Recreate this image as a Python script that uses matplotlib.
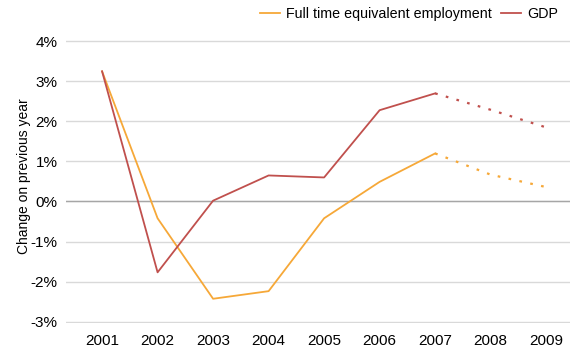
import matplotlib.pyplot as plt

plt.rcParams['font.family'] = ['Liberation Sans', 'DejaVu Sans']

years = [2001, 2002, 2003, 2004, 2005, 2006, 2007, 2008, 2009]
employment = [3.25, -0.42, -2.43, -2.24, -0.42, 0.49, 1.20, 0.67, 0.36]
gdp = [3.25, -1.77, 0.02, 0.65, 0.60, 2.28, 2.70, 2.29, 1.85]
# 2008 and 2009 are forecasts, drawn dotted
n_actual = 7

orange = '#F6A838'
red = '#C0504D'

fig = plt.figure(figsize=(5.7, 3.52), dpi=100)
ax = fig.add_axes([66 / 570, 0.083, 504 / 570, 0.803])

ax.plot(years[:n_actual], employment[:n_actual], color=orange, lw=1.3,
        label='Full time equivalent employment')
ax.plot(years[n_actual - 1:], employment[n_actual - 1:], color=orange, lw=1.6,
        linestyle=(0, (1.2, 3.8)))
ax.plot(years[:n_actual], gdp[:n_actual], color=red, lw=1.3, label='GDP')
ax.plot(years[n_actual - 1:], gdp[n_actual - 1:], color=red, lw=1.6,
        linestyle=(0, (1.2, 3.8)))

ax.set_xlim(2000.35, 2009.43)
ax.set_ylim(-3.03, 4.03)
ax.set_xticks(years)
ax.set_yticks(range(-3, 5))
ax.set_yticklabels([f'{v}%' for v in range(-3, 5)])
ax.tick_params(length=0, labelsize=11, pad=6)
ax.tick_params(axis='x', pad=8)
for s in ax.spines.values():
    s.set_visible(False)
ax.grid(axis='y', color='#d9d9d9', lw=1)
ax.axhline(0, color='#a6a6a6', lw=1, zorder=1)
ax.set_axisbelow(True)
ax.set_ylabel('Change on previous year', fontsize=10)
ax.yaxis.set_label_coords(-0.07, 0.52)

fig.legend(loc='center right', bbox_to_anchor=(0.979, 0.96), ncol=2,
           frameon=False, fontsize=10.3, handlelength=1.4, handletextpad=0.4,
           columnspacing=0.7, borderpad=0, borderaxespad=0)

fig.savefig('out.png')
